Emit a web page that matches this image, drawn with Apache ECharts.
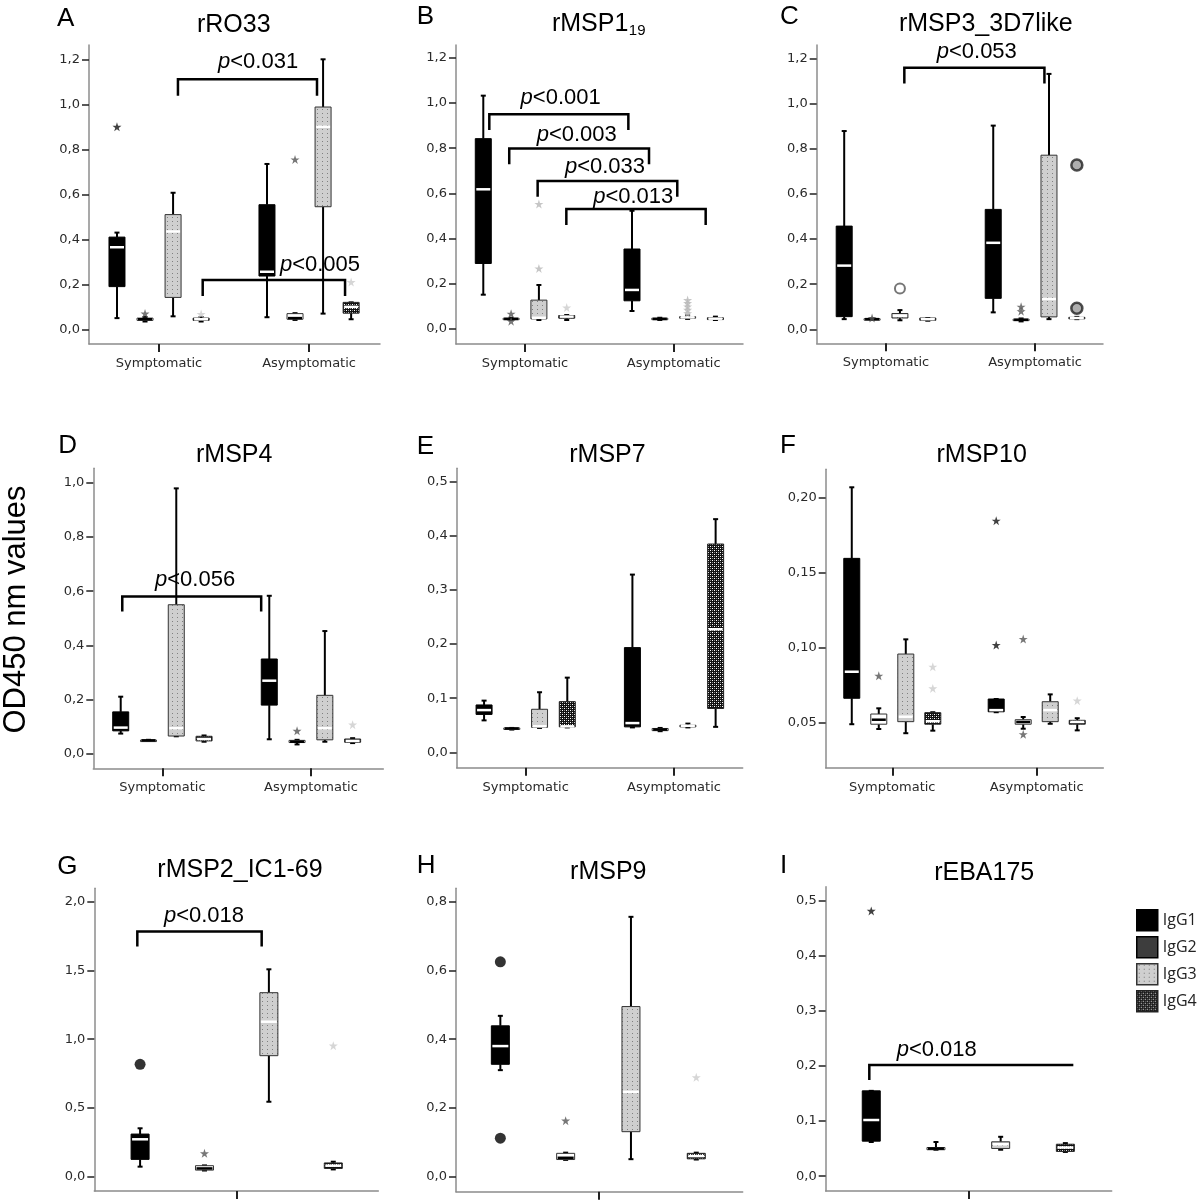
<!DOCTYPE html>
<html>
<head>
<meta charset="utf-8">
<script src="https://cdn.jsdelivr.net/npm/echarts@6/dist/echarts.min.js"></script>
<style>html,body{margin:0;padding:0;background:#fff}#c{width:1200px;height:1202px}</style>
</head>
<body>
<div id="c"></div>
<script>
// ---------------- DATA ----------------
const IGG = ['IgG1', 'IgG2', 'IgG3', 'IgG4'];
const GROUPS = ['Symptomatic', 'Asymptomatic'];

// each row: [min, Q1, median, Q3, max] for IgG1..IgG4
const rRO33_sym  = [[0.05,0.19,0.365,0.41,0.43],[0.035,0.04,0.045,0.05,0.055],[0.058,0.142,0.435,0.51,0.607],[0.035,0.04,0.045,0.05,0.055]];
const rRO33_asym = [[0.054,0.237,0.256,0.554,0.735],[0.042,0.045,0.05,0.07,0.072],[0.07,0.545,0.9,0.988,1.2],[0.045,0.072,0.1,0.12,0.12]];
// outliers: [group(1=Sympt,2=Asympt,0=single), subclass index, value, marker]
const rRO33_out = [[1,0,0.9,'star'],[1,1,0.07,'star'],[1,3,0.068,'star'],[2,1,0.755,'star'],[2,3,0.21,'star']];
const rRO33_p = ['p<0.031','p<0.005'];
// brackets: [x1, x2, yTop, legLeft, legRight, textX, textY]
const rRO33_br = [[1.126,2.053,1.111,1.038,1.038,1.66,1.188],[1.291,2.24,0.219,0.148,0.148,2.073,0.286]];

const rMSP119_sym  = [[0.152,0.29,0.618,0.842,1.032],[0.04,0.042,0.045,0.048,0.05],[0.04,0.045,0.05,0.128,0.195],[0.04,0.048,0.055,0.06,0.062]];
const rMSP119_asym = [[0.08,0.125,0.173,0.354,0.523],[0.04,0.042,0.045,0.048,0.05],[0.045,0.048,0.052,0.055,0.06],[0.04,0.042,0.046,0.05,0.055]];
const rMSP119_out = [[1,1,0.068,'star'],[1,1,0.035,'star'],[1,2,0.553,'star'],[1,2,0.268,'star'],[1,3,0.095,'star'],[2,2,0.07,'star'],[2,2,0.085,'star'],[2,2,0.1,'star'],[2,2,0.115,'star'],[2,2,0.128,'star']];
const rMSP119_p = ['p<0.001','p<0.003','p<0.033','p<0.013'];
const rMSP119_br = [[0.76,1.695,0.95,0.88,0.88,1.24,1.022],[0.894,1.834,0.798,0.729,0.729,1.348,0.858],[1.085,2.024,0.655,0.585,0.585,1.538,0.718],[1.278,2.215,0.531,0.46,0.46,1.728,0.585]];

const rMSP3_sym  = [[0.045,0.056,0.282,0.457,0.878],[0.042,0.043,0.045,0.047,0.048],[0.04,0.05,0.06,0.07,0.085],[0.038,0.04,0.045,0.05,0.05]];
const rMSP3_asym = [[0.075,0.137,0.383,0.531,0.902],[0.035,0.04,0.042,0.045,0.048],[0.045,0.055,0.134,0.771,1.131],[0.045,0.048,0.05,0.053,0.055]];
const rMSP3_out = [[1,1,0.05,'star'],[1,2,0.181,'ring'],[2,1,0.1,'star'],[2,1,0.08,'star'],[2,3,0.728,'xring'],[2,3,0.093,'xring']];
const rMSP3_p = ['p<0.053'];
const rMSP3_br = [[1.123,2.063,1.158,1.089,1.089,1.609,1.229]];

const rMSP4_sym  = [[0.075,0.085,0.097,0.155,0.211],[0.048,0.049,0.05,0.051,0.052],[0.065,0.066,0.095,0.55,0.979],[0.045,0.048,0.055,0.065,0.068]];
const rMSP4_asym = [[0.054,0.18,0.27,0.35,0.583],[0.035,0.042,0.045,0.05,0.052],[0.045,0.052,0.095,0.216,0.453],[0.04,0.043,0.048,0.055,0.058]];
const rMSP4_out = [[2,1,0.085,'star'],[2,3,0.108,'star']];
const rMSP4_p = ['p<0.056'];
const rMSP4_br = [[0.73,1.665,0.58,0.525,0.525,1.22,0.641]];

const rMSP7_sym  = [[0.059,0.07,0.078,0.0875,0.0955],[0.042,0.043,0.044,0.045,0.045],[0.045,0.046,0.048,0.0795,0.111],[0.046,0.047,0.048,0.0936,0.138]];
const rMSP7_asym = [[0.046,0.047,0.054,0.1935,0.3285],[0.039,0.04,0.042,0.044,0.045],[0.046,0.047,0.049,0.05,0.053],[0.047,0.081,0.2275,0.385,0.431]];
const rMSP7_out = [];
const rMSP7_p = [];
const rMSP7_br = [];

const rMSP10_sym  = [[0.049,0.0663,0.084,0.1596,0.207],[0.0458,0.049,0.052,0.0558,0.0596],[0.043,0.0507,0.054,0.0958,0.1056],[0.0447,0.049,0.051,0.0567,0.057]];
const rMSP10_asym = [[0.057,0.0573,0.0584,0.0658,0.0658],[0.046,0.049,0.0505,0.052,0.0538],[0.0493,0.0507,0.0584,0.064,0.0689],[0.0449,0.049,0.0505,0.0516,0.053]];
const rMSP10_out = [[1,1,0.0813,'star'],[1,3,0.0873,'star'],[1,3,0.0729,'star'],[2,0,0.1847,'star'],[2,0,0.1018,'star'],[2,1,0.1058,'star'],[2,1,0.0423,'star'],[2,3,0.0647,'star']];
const rMSP10_p = [];
const rMSP10_br = [];

const rMSP2_all = [[0.073,0.126,0.272,0.31,0.352],[0.045,0.048,0.06,0.08,0.082],[0.545,0.88,1.127,1.338,1.508],[0.053,0.06,0.08,0.1,0.109]];
const rMSP2_out = [[0,0,0.817,'dot'],[0,1,0.17,'star'],[0,3,0.953,'star']];
const rMSP2_p = ['p<0.018'];
const rMSP2_br = [[0.957,2.888,1.782,1.673,1.673,1.992,1.898]];

const rMSP9_all = [[0.31,0.327,0.38,0.439,0.468],[0.049,0.05,0.055,0.068,0.07],[0.051,0.131,0.247,0.495,0.756],[0.05,0.052,0.06,0.068,0.07]];
const rMSP9_out = [[0,0,0.625,'dot'],[0,0,0.112,'dot'],[0,1,0.163,'star'],[0,3,0.289,'star']];
const rMSP9_p = [];
const rMSP9_br = [];

const rEBA175_all = [[0.062,0.0636,0.102,0.155,0.155],[0.048,0.048,0.05,0.052,0.062],[0.048,0.0503,0.058,0.0624,0.0715],[0.044,0.045,0.052,0.058,0.06]];
const rEBA175_out = [[0,0,0.482,'star']];
const rEBA175_p = ['p<0.018'];
const rEBA175_br = [[0.97,4.123,0.2018,0.1745,0.2018,2.012,0.229]];

// tick values
const ticks_12 = [0, 0.2, 0.4, 0.6, 0.8, 1.0, 1.2];
const ticks_10 = [0, 0.2, 0.4, 0.6, 0.8, 1.0];
const ticks_05 = [0, 0.1, 0.2, 0.3, 0.4, 0.5];
const ticks_020 = [0.05, 0.10, 0.15, 0.20];
const ticks_20 = [0, 0.5, 1.0, 1.5, 2.0];
const ticks_08 = [0, 0.2, 0.4, 0.6, 0.8];

// ---------------- LAYOUT ----------------
const panels = [
  {letter:'A', title:'rRO33', groups:[rRO33_sym, rRO33_asym], out:rRO33_out, p:rRO33_p, br:rRO33_br, ticks:ticks_12, dec:1,
   grid:{left:89, top:45, width:291, height:299}, x:[0.533,2.473], y:[-0.065,1.2636], lp:[57,18.5], tp:[233.8,25.3]},
  {letter:'B', title:'rMSP1', sub:'19', groups:[rMSP119_sym, rMSP119_asym], out:rMSP119_out, p:rMSP119_p, br:rMSP119_br, ticks:ticks_12, dec:1,
   grid:{left:456, top:45, width:287, height:299}, x:[0.536,2.466], y:[-0.066,1.256], lp:[416.7,17], tp:[628.3,24.2]},
  {letter:'C', title:'rMSP3_3D7like', groups:[rMSP3_sym, rMSP3_asym], out:rMSP3_out, p:rMSP3_p, br:rMSP3_br, ticks:ticks_12, dec:1,
   grid:{left:816.7, top:45, width:286.3, height:298.3}, x:[0.535,2.456], y:[-0.062,1.259], lp:[780,17], tp:[985.8,24.2]},
  {letter:'D', title:'rMSP4', groups:[rMSP4_sym, rMSP4_asym], out:rMSP4_out, p:rMSP4_p, br:rMSP4_br, ticks:ticks_10, dec:1,
   grid:{left:93.3, top:468.3, width:290, height:300}, x:[0.535,2.487], y:[-0.053,1.053], lp:[58.3,446], tp:[234.2,455]},
  {letter:'E', title:'rMSP7', groups:[rMSP7_sym, rMSP7_asym], out:rMSP7_out, p:rMSP7_p, br:rMSP7_br, ticks:ticks_05, dec:1,
   grid:{left:456.7, top:468.3, width:286, height:299.4}, x:[0.535,2.463], y:[-0.0285,0.525], lp:[416.7,446.5], tp:[607.5,455]},
  {letter:'F', title:'rMSP10', groups:[rMSP10_sym, rMSP10_asym], out:rMSP10_out, p:rMSP10_p, br:rMSP10_br, ticks:ticks_020, dec:2,
   grid:{left:825.7, top:469.3, width:277.6, height:298.4}, x:[0.539,2.461], y:[0.02,0.219], lp:[780,446], tp:[981.7,455]},
  {letter:'G', title:'rMSP2_IC1-69', single:true, groups:[rMSP2_all], out:rMSP2_out, p:rMSP2_p, br:rMSP2_br, ticks:ticks_20, dec:1,
   grid:{left:94.3, top:888.3, width:284, height:302.7}, x:[0.289,4.699], y:[-0.104,2.097], lp:[57.3,867], tp:[240,870.5]},
  {letter:'H', title:'rMSP9', single:true, groups:[rMSP9_all], out:rMSP9_out, p:rMSP9_p, br:rMSP9_br, ticks:ticks_08, dec:1,
   grid:{left:456, top:888.3, width:286.7, height:303.4}, x:[0.321,4.711], y:[-0.0436,0.839], lp:[416.7,866.3], tp:[608.3,872.5]},
  {letter:'I', title:'rEBA175', single:true, groups:[rEBA175_all], out:rEBA175_out, p:rEBA175_p, br:rEBA175_br, ticks:ticks_05, dec:1,
   grid:{left:825.7, top:886.7, width:286, height:304.3}, x:[0.296,4.716], y:[-0.027,0.526], lp:[780,866], tp:[984.2,873.3]}
];

const SP = 0.187;
function xpos(P, g, k) { return P.single ? k + 1 : g + (k - 1.5) * SP; }

function makePattern(kind) {
  const c = document.createElement('canvas');
  const ctx = c.getContext('2d');
  if (kind === 3) {
    c.width = 5; c.height = 4;
    ctx.fillStyle = '#cfcfcf'; ctx.fillRect(0, 0, 5, 4);
    ctx.fillStyle = '#808080'; ctx.fillRect(2, 1, 1, 1);
  } else {
    c.width = 4; c.height = 4;
    ctx.fillStyle = '#111'; ctx.fillRect(0, 0, 4, 4);
    ctx.fillStyle = '#fff'; ctx.fillRect(0, 0, 1, 1); ctx.fillRect(2, 2, 1, 1);
    ctx.fillStyle = '#888'; ctx.fillRect(2, 0, 1, 1); ctx.fillRect(0, 2, 1, 1);
  }
  return { image: c, repeat: 'repeat' };
}
const PAT3 = makePattern(3), PAT4 = makePattern(4);
const FILL = ['#000', '#fff', PAT3, PAT4];
const STROKE = ['#000', '#333', '#333', '#222'];
const MEDIAN = ['#fff', '#000', '#fff', '#fff'];
const STAR_COLOR = ['#111', '#555', '#b8b8b8', '#cccccc'];
const STAR = 'path://M50,0 L61.8,35.1 98.9,35.1 68.9,56.9 80.3,91.9 50,70.3 19.7,91.9 31.1,56.9 1.1,35.1 38.2,35.1 Z';

function boxRenderer(k, bw) {
  return function (params, api) {
    const x = api.value(0);
    const pMin = api.coord([x, api.value(1)]);
    const cx = pMin[0];
    const yMin = pMin[1];
    const yQ1 = api.coord([x, api.value(2)])[1];
    const yMed = api.coord([x, api.value(3)])[1];
    const yQ3 = api.coord([x, api.value(4)])[1];
    const yMax = api.coord([x, api.value(5)])[1];
    const ls = { stroke: '#000', lineWidth: 2 };
    const ch = [];
    ch.push({ type: 'line', shape: { x1: cx, y1: yQ1, x2: cx, y2: yMin }, style: ls });
    ch.push({ type: 'line', shape: { x1: cx, y1: yQ3, x2: cx, y2: yMax }, style: ls });
    ch.push({ type: 'line', shape: { x1: cx - 2.5, y1: yMin, x2: cx + 2.5, y2: yMin }, style: ls });
    ch.push({ type: 'line', shape: { x1: cx - 2.5, y1: yMax, x2: cx + 2.5, y2: yMax }, style: ls });
    ch.push({ type: 'rect', shape: { x: cx - bw / 2, y: yQ3, width: bw, height: Math.max(yQ1 - yQ3, 1.5) },
              style: { fill: FILL[k], stroke: STROKE[k], lineWidth: 1 } });
    ch.push({ type: 'line', shape: { x1: cx - bw / 2 + 1, y1: yMed, x2: cx + bw / 2 - 1, y2: yMed },
              style: { stroke: MEDIAN[k], lineWidth: 2.5 } });
    return { type: 'group', children: ch };
  };
}

function bracketRenderer(texts) {
  return function (params, api) {
    const x1 = api.value(0), x2 = api.value(1), yt = api.value(2), l1 = api.value(3), l2 = api.value(4);
    const pts = [api.coord([x1, l1]), api.coord([x1, yt]), api.coord([x2, yt]), api.coord([x2, l2])];
    const t = api.coord([api.value(5), api.value(6)]);
    const s = texts[params.dataIndex];
    return { type: 'group', children: [
      { type: 'polyline', shape: { points: pts }, style: { stroke: '#000', lineWidth: 2.5, fill: null } },
      { type: 'text', x: t[0], y: t[1], style: {
          text: '{i|' + s.charAt(0) + '}{n|' + s.slice(1) + '}',
          align: 'center', verticalAlign: 'middle', fill: '#000',
          rich: { i: { fontStyle: 'italic', fontSize: 22, fontFamily: 'Liberation Sans', fill: '#000' },
                  n: { fontSize: 22, fontFamily: 'Liberation Sans', fill: '#000' } } } }
    ] };
  };
}

const grids = [], xAxes = [], yAxes = [], series = [], graphics = [];
const tickFont = { fontFamily: 'DejaVu Sans', fontSize: 13, color: '#2a2a2a' };

panels.forEach((P, i) => {
  grids.push(Object.assign({ containLabel: false, outerBoundsMode: 'none' }, P.grid));
  xAxes.push({
    gridIndex: i, type: 'value', min: P.x[0], max: P.x[1], splitLine: { show: false },
    axisLine: { show: true, onZero: false, lineStyle: { color: '#8c8c8c', width: 1.5 } },
    axisTick: { show: true, customValues: P.single ? [2.5] : [1, 2], length: 8, lineStyle: { color: '#222', width: 2 } },
    axisLabel: Object.assign({ show: !P.single, customValues: [1, 2], margin: 13,
      formatter: v => GROUPS[Math.round(v) - 1] }, tickFont)
  });
  yAxes.push({
    gridIndex: i, type: 'value', min: P.y[0], max: P.y[1], splitLine: { show: false },
    axisLine: { show: true, onZero: false, lineStyle: { color: '#8c8c8c', width: 1.5 } },
    axisTick: { show: true, customValues: P.ticks, length: 7, lineStyle: { color: '#222', width: 1.5 } },
    axisLabel: Object.assign({ customValues: P.ticks, margin: 9,
      formatter: v => v.toFixed(P.dec).replace('.', ',') }, tickFont)
  });
  const bw = P.single ? 18 : 16;
  if (P.br.length) {
    series.push({ type: 'custom', xAxisIndex: i, yAxisIndex: i, z: 1, silent: true,
      renderItem: bracketRenderer(P.p), data: P.br });
  }
  for (let k = 0; k < 4; k++) {
    series.push({ type: 'custom', name: IGG[k], xAxisIndex: i, yAxisIndex: i, z: 2, silent: true,
      itemStyle: { color: k === 1 ? '#3d3d3d' : (k === 0 ? '#000' : FILL[k]) },
      renderItem: boxRenderer(k, bw),
      data: P.groups.map((arr, gi) => [xpos(P, gi + 1, k)].concat(arr[k])) });
  }
  series.push({ type: 'scatter', name: 'outliers', xAxisIndex: i, yAxisIndex: i, z: 5, silent: true,
    data: P.out.map(o => {
      const d = { value: [xpos(P, o[0], o[1]), o[2]] };
      if (o[3] === 'star') { d.symbol = STAR; d.symbolSize = 9; d.itemStyle = { color: STAR_COLOR[o[1]] }; }
      else if (o[3] === 'dot') { d.symbol = 'circle'; d.symbolSize = 11; d.itemStyle = { color: '#000' }; }
      else if (o[3] === 'ring') { d.symbol = 'circle'; d.symbolSize = 10; d.itemStyle = { color: '#fff', borderColor: '#555', borderWidth: 2 }; }
      else { d.symbol = 'circle'; d.symbolSize = 11; d.itemStyle = { color: '#9a9a9a', borderColor: '#222', borderWidth: 2.5 }; }
      return d;
    }) });
  // panel letter & title
  graphics.push({ type: 'text', x: P.lp[0], y: P.lp[1], style: { text: P.letter, font: '26px "Liberation Sans"', fill: '#000', align: 'left', verticalAlign: 'middle' } });
  if (P.sub) {
    graphics.push({ type: 'text', x: P.tp[0], y: P.tp[1], style: { text: P.title, font: '25px "Liberation Sans"', fill: '#000', align: 'right', verticalAlign: 'middle' } });
    graphics.push({ type: 'text', x: P.tp[0] + 0.5, y: P.tp[1] + 6.5, style: { text: P.sub, font: '15px "Liberation Sans"', fill: '#000', align: 'left', verticalAlign: 'middle' } });
  } else {
    graphics.push({ type: 'text', x: P.tp[0], y: P.tp[1], style: { text: P.title, font: '25px "Liberation Sans"', fill: '#000', align: 'center', verticalAlign: 'middle' } });
  }
});

graphics.push({ type: 'text', x: 16.7, y: 609.5, rotation: Math.PI / 2,
  style: { text: 'OD450 nm values', font: '31px "Liberation Sans"', fill: '#000', align: 'center', verticalAlign: 'middle' } });

const chart = echarts.init(document.getElementById('c'), null, { renderer: 'canvas' });
chart.setOption({
  animation: false,
  backgroundColor: '#fff',
  grid: grids, xAxis: xAxes, yAxis: yAxes, series: series, graphic: graphics,
  legend: {
    orient: 'vertical', left: 1136, top: 909, padding: 0, itemWidth: 21, itemHeight: 21, itemGap: 4.5,
    selectedMode: false, icon: 'rect',
    textStyle: { fontFamily: 'Open Sans', fontSize: 16, color: '#222' },
    data: [
      { name: 'IgG1', itemStyle: { color: '#000', borderColor: '#000', borderWidth: 1.5 } },
      { name: 'IgG2', itemStyle: { color: '#3d3d3d', borderColor: '#000', borderWidth: 1.5 } },
      { name: 'IgG3', itemStyle: { color: PAT3, borderColor: '#333', borderWidth: 1.5 } },
      { name: 'IgG4', itemStyle: { color: PAT4, borderColor: '#222', borderWidth: 1.5 } }
    ]
  }
});
</script>
</body>
</html>
